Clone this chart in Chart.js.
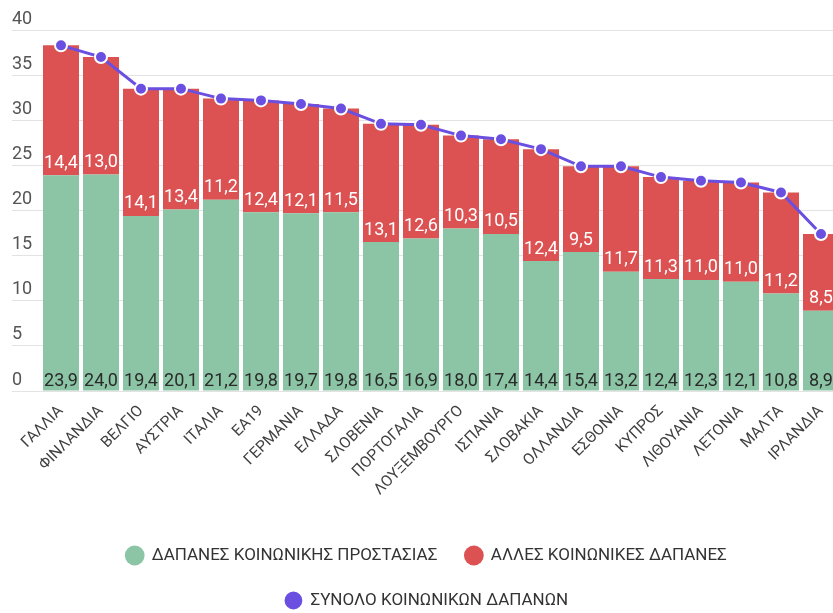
<!DOCTYPE html>
<html>
<head>
<meta charset="utf-8">
<script src="https://cdn.jsdelivr.net/npm/chart.js@4"></script>
<style>
  html, body { margin: 0; padding: 0; background: #fff; overflow: hidden; }
  #wrap { width: 850px; height: 613px; }
</style>
</head>
<body>
<div id="wrap"><canvas id="chart" width="850" height="613"></canvas></div>
<script>
// Κατηγορίες (χώρες)
const countries = [
  'ΓΑΛΛΙΑ', 'ΦΙΝΛΑΝΔΙΑ', 'ΒΕΛΓΙΟ', 'ΑΥΣΤΡΙΑ', 'ΙΤΑΛΙΑ', 'ΕΑ19', 'ΓΕΡΜΑΝΙΑ',
  'ΕΛΛΑΔΑ', 'ΣΛΟΒΕΝΙΑ', 'ΠΟΡΤΟΓΑΛΙΑ', 'ΛΟΥΞΕΜΒΟΥΡΓΟ', 'ΙΣΠΑΝΙΑ', 'ΣΛΟΒΑΚΙΑ',
  'ΟΛΛΑΝΔΙΑ', 'ΕΣΘΟΝΙΑ', 'ΚΥΠΡΟΣ', 'ΛΙΘΟΥΑΝΙΑ', 'ΛΕΤΟΝΙΑ', 'ΜΑΛΤΑ', 'ΙΡΛΑΝΔΙΑ'
];

// Δαπάνες κοινωνικής προστασίας
const protection = [23.9, 24.0, 19.4, 20.1, 21.2, 19.8, 19.7, 19.8, 16.5, 16.9,
  18.0, 17.4, 14.4, 15.4, 13.2, 12.4, 12.3, 12.1, 10.8, 8.9];

// Άλλες κοινωνικές δαπάνες
const other = [14.4, 13.0, 14.1, 13.4, 11.2, 12.4, 12.1, 11.5, 13.1, 12.6,
  10.3, 10.5, 12.4, 9.5, 11.7, 11.3, 11.0, 11.0, 11.2, 8.5];

// Σύνολο κοινωνικών δαπανών
const total = [38.3, 37.0, 33.5, 33.5, 32.4, 32.2, 31.8, 31.3, 29.6, 29.5,
  28.3, 27.9, 26.8, 24.9, 24.9, 23.7, 23.3, 23.1, 22.0, 17.4];

const yTicks = [0, 5, 10, 15, 20, 25, 30, 35, 40];

const GREEN = '#8cc5a6';
const RED = '#dc5252';
const PURPLE = '#6a4fe0';

Chart.defaults.font.family = 'Roboto';

function fmt(v) {
  return v.toFixed(1).replace('.', ',');
}

// Ετικέτες τιμών μέσα στις μπάρες
const barLabels = {
  id: 'barLabels',
  afterDatasetsDraw(chart) {
    const ctx = chart.ctx;
    ctx.save();
    ctx.font = '18px Roboto';
    ctx.textAlign = 'center';
    ctx.textBaseline = 'middle';
    [0, 1].forEach(di => {
      const meta = chart.getDatasetMeta(di);
      const data = chart.data.datasets[di].data;
      meta.data.forEach((bar, i) => {
        ctx.fillStyle = di === 0 ? '#2a2a2a' : '#ffffff';
        const y = di === 0 ? bar.base - 9 : bar.base - 12;
        ctx.fillText(fmt(data[i]), bar.x, y);
      });
    });
    ctx.restore();
  }
};

const ctx = document.getElementById('chart').getContext('2d');
new Chart(ctx, {
  data: {
    labels: countries,
    datasets: [
      {
        type: 'bar',
        label: 'ΔΑΠΑΝΕΣ ΚΟΙΝΩΝΙΚΗΣ ΠΡΟΣΤΑΣΙΑΣ',
        data: protection,
        backgroundColor: GREEN,
        borderWidth: 0,
        barPercentage: 0.9,
        categoryPercentage: 1,
        order: 1
      },
      {
        type: 'bar',
        label: 'ΑΛΛΕΣ ΚΟΙΝΩΝΙΚΕΣ ΔΑΠΑΝΕΣ',
        data: other,
        backgroundColor: RED,
        borderWidth: 0,
        barPercentage: 0.9,
        categoryPercentage: 1,
        order: 1
      },
      {
        type: 'line',
        label: 'ΣΥΝΟΛΟ ΚΟΙΝΩΝΙΚΩΝ ΔΑΠΑΝΩΝ',
        data: total,
        borderColor: PURPLE,
        backgroundColor: PURPLE,
        borderWidth: 3,
        pointRadius: 6,
        pointBackgroundColor: PURPLE,
        pointBorderColor: '#ffffff',
        pointBorderWidth: 2,
        tension: 0,
        order: 0
      }
    ]
  },
  options: {
    responsive: false,
    animation: false,
    layout: { padding: { top: 30, left: 12, right: 9, bottom: -6 } },
    plugins: {
      tooltip: { enabled: false },
      legend: {
        position: 'bottom',
        labels: {
          usePointStyle: true,
          pointStyle: 'circle',
          boxHeight: 14,
          padding: 28,
          color: '#333',
          font: { size: 17 },
          sort: (a, b) => a.datasetIndex - b.datasetIndex
        }
      }
    },
    scales: {
      x: {
        stacked: true,
        grid: { display: false },
        border: { display: false },
        ticks: {
          autoSkip: false,
          maxRotation: 45,
          minRotation: 45,
          color: '#404040',
          font: { size: 15.5 }
        },
        afterFit: s => { s.height = 128; }
      },
      y: {
        stacked: true,
        min: 0,
        max: 40,
        afterBuildTicks: s => { s.ticks = yTicks.map(v => ({ value: v })); },
        afterFit: s => { s.width = 29; },
        border: { display: false },
        grid: { color: '#e3e3e3', drawTicks: true, tickLength: 29 },
        ticks: {
          crossAlign: 'far',
          labelOffset: -11,
          color: '#555',
          font: { size: 18 }
        }
      }
    }
  },
  plugins: [barLabels]
});
</script>
</body>
</html>
